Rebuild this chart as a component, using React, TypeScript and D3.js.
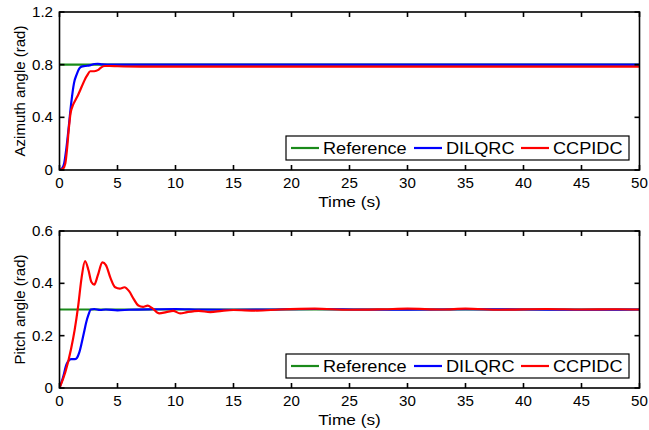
import React from "react";
import { scaleLinear, line, curveMonotoneX } from "d3";

// time ticks shared by both panels
const timeTicks = [0, 5, 10, 15, 20, 25, 30, 35, 40, 45, 50];
const azTicks = [0, 0.4, 0.8, 1.2];
const pitchTicks = [0, 0.2, 0.4, 0.6];
const seriesNames = ["Reference", "DILQRC", "CCPIDC"];
const seriesColors = ["#1a8a1a", "#0000ff", "#ff0000"];

// azimuth (top)
const azRefT = [0, 50];
const azRefV = [0.8, 0.8];
const azBlueT = [0, 0.2, 0.4, 0.6, 0.8, 1.0, 1.25, 1.5, 1.7, 1.9, 2.2, 2.6, 3.0, 3.3, 3.7, 4.5, 6, 10, 15, 20, 25, 30, 35, 40, 45, 50];
const azBlueV = [0, 0.01, 0.05, 0.17, 0.33, 0.5, 0.66, 0.73, 0.77, 0.785, 0.79, 0.795, 0.805, 0.807, 0.802, 0.8, 0.8, 0.8, 0.8, 0.801, 0.8, 0.801, 0.8, 0.8, 0.801, 0.8];
const azRedT = [0, 0.3, 0.5, 0.65, 0.8, 0.95, 1.15, 1.4, 1.6, 1.8, 2.0, 2.2, 2.4, 2.65, 3.0, 3.35, 3.6, 3.9, 4.3, 5, 7, 10, 15, 20, 25, 30, 35, 40, 45, 50];
const azRedV = [0, 0.01, 0.05, 0.16, 0.31, 0.43, 0.49, 0.535, 0.57, 0.61, 0.65, 0.69, 0.72, 0.75, 0.75, 0.76, 0.78, 0.79, 0.79, 0.788, 0.785, 0.785, 0.785, 0.785, 0.785, 0.785, 0.785, 0.785, 0.785, 0.785];

// pitch (bottom)
const pitchRefT = [0, 50];
const pitchRefV = [0.3, 0.3];
const pitchBlueT = [0, 0.3, 0.6, 0.8, 1.0, 1.3, 1.5, 1.7, 1.9, 2.1, 2.3, 2.5, 2.7, 3.0, 3.5, 4, 5, 6, 8, 10, 12, 15, 18, 22, 26, 30, 35, 40, 45, 50];
const pitchBlueV = [0, 0.04, 0.09, 0.105, 0.11, 0.11, 0.115, 0.135, 0.17, 0.21, 0.25, 0.28, 0.3, 0.302, 0.298, 0.3, 0.297, 0.299, 0.301, 0.302, 0.3, 0.299, 0.3, 0.302, 0.3, 0.299, 0.301, 0.3, 0.299, 0.3];
const pitchRedT = [0, 0.5, 1.0, 1.3, 1.6, 1.9, 2.2, 2.5, 2.75, 3.0, 3.3, 3.7, 4.0, 4.4, 4.8, 5.2, 5.6, 6.0, 6.4, 6.8, 7.2, 7.6, 8.0, 8.6, 9.2, 9.8, 10.4, 11, 12, 13, 14, 15, 17, 19, 22, 25, 28, 30, 33, 35, 38, 42, 45, 48, 50];
const pitchRedV = [0, 0.06, 0.15, 0.22, 0.31, 0.42, 0.485, 0.45, 0.405, 0.395, 0.43, 0.48, 0.47, 0.42, 0.385, 0.38, 0.385, 0.37, 0.34, 0.315, 0.31, 0.315, 0.305, 0.285, 0.29, 0.295, 0.285, 0.29, 0.295, 0.29, 0.295, 0.298, 0.296, 0.3, 0.303, 0.299, 0.301, 0.303, 0.3, 0.303, 0.299, 0.302, 0.3, 0.301, 0.3];

const font = "Liberation Sans, Arial, sans-serif";

type Series = { t: number[]; v: number[] };

function Panel(props: {
  top: number;
  bottom: number;
  yMax: number;
  yTicks: number[];
  yLabel: string;
  series: Series[];
  legendY: number;
}) {
  const { top, bottom, yMax, yTicks, yLabel, series, legendY } = props;
  const left = 59.5;
  const right = 639.5;
  const x = scaleLinear().domain([0, 50]).range([left, right]);
  const y = scaleLinear().domain([0, yMax]).range([bottom, top]);
  const tick = 5;

  const paths = series.map((s) =>
    line<number>()
      .x((d, i) => x(s.t[i]))
      .y((d) => y(d))
      .curve(curveMonotoneX)(s.v)
  );

  const lgX = 286;
  const lgW = 343;
  const lgH = 24;
  const entries = [
    { x0: 291, text: 323 },
    { x0: 414, text: 446 },
    { x0: 521, text: 553 },
  ];

  return (
    <g>
      <defs>
        <clipPath id={"clip" + top}>
          <rect x={left} y={top} width={right - left} height={bottom - top} />
        </clipPath>
      </defs>
      <g clipPath={`url(#clip${top})`}>
        {paths.map((d, i) => (
          <path key={i} d={d || ""} fill="none" stroke={seriesColors[i]} strokeWidth={2.2} />
        ))}
      </g>
      <rect x={left} y={top} width={right - left} height={bottom - top} fill="none" stroke="#000" strokeWidth={1.6} />
      {timeTicks.map((t) => (
        <g key={t}>
          <line x1={x(t)} x2={x(t)} y1={bottom} y2={bottom - tick} stroke="#000" strokeWidth={1.6} />
          <line x1={x(t)} x2={x(t)} y1={top} y2={top + tick} stroke="#000" strokeWidth={1.6} />
          <text transform={`translate(${x(t)},${bottom + 18}) scale(1.08,1)`} textAnchor="middle" fontSize={14} fontFamily={font}>
            {t}
          </text>
        </g>
      ))}
      {yTicks.map((v) => (
        <g key={v}>
          <line x1={left} x2={left + tick} y1={y(v)} y2={y(v)} stroke="#000" strokeWidth={1.6} />
          <line x1={right} x2={right - tick} y1={y(v)} y2={y(v)} stroke="#000" strokeWidth={1.6} />
          <text transform={`translate(53,${y(v)}) scale(1.08,1)`} dy="0.35em" textAnchor="end" fontSize={14} fontFamily={font}>
            {v}
          </text>
        </g>
      ))}
      <text transform={`translate(${(left + right) / 2},${bottom + 37}) scale(1.15,1)`} textAnchor="middle" fontSize={15} fontFamily={font}>
        Time (s)
      </text>
      <text
        transform={`translate(25,${(top + bottom) / 2}) rotate(-90)`}
        textAnchor="middle"
        fontSize={15}
        fontFamily={font}
      >
        {yLabel}
      </text>
      <rect x={lgX} y={legendY} width={lgW} height={lgH} fill="#fff" stroke="#000" strokeWidth={1.2} />
      {entries.map((e, i) => (
        <g key={i}>
          <line x1={e.x0} x2={e.x0 + 28} y1={legendY + lgH / 2} y2={legendY + lgH / 2} stroke={seriesColors[i]} strokeWidth={2.2} />
          <text transform={`translate(${e.text},${legendY + lgH / 2}) scale(1.1,1)`} dy="0.36em" fontSize={16.5} fontFamily={font}>
            {seriesNames[i]}
          </text>
        </g>
      ))}
    </g>
  );
}

export default function App() {
  return (
    <svg width={649} height={430} style={{ position: "absolute", left: 0, top: 0, background: "#fff" }}>
      <Panel
        top={12}
        bottom={170}
        yMax={1.2}
        yTicks={azTicks}
        yLabel="Azimuth angle (rad)"
        legendY={136}
        series={[
          { t: azRefT, v: azRefV },
          { t: azBlueT, v: azBlueV },
          { t: azRedT, v: azRedV },
        ]}
      />
      <Panel
        top={231}
        bottom={388}
        yMax={0.6}
        yTicks={pitchTicks}
        yLabel="Pitch angle (rad)"
        legendY={354}
        series={[
          { t: pitchRefT, v: pitchRefV },
          { t: pitchBlueT, v: pitchBlueV },
          { t: pitchRedT, v: pitchRedV },
        ]}
      />
    </svg>
  );
}
